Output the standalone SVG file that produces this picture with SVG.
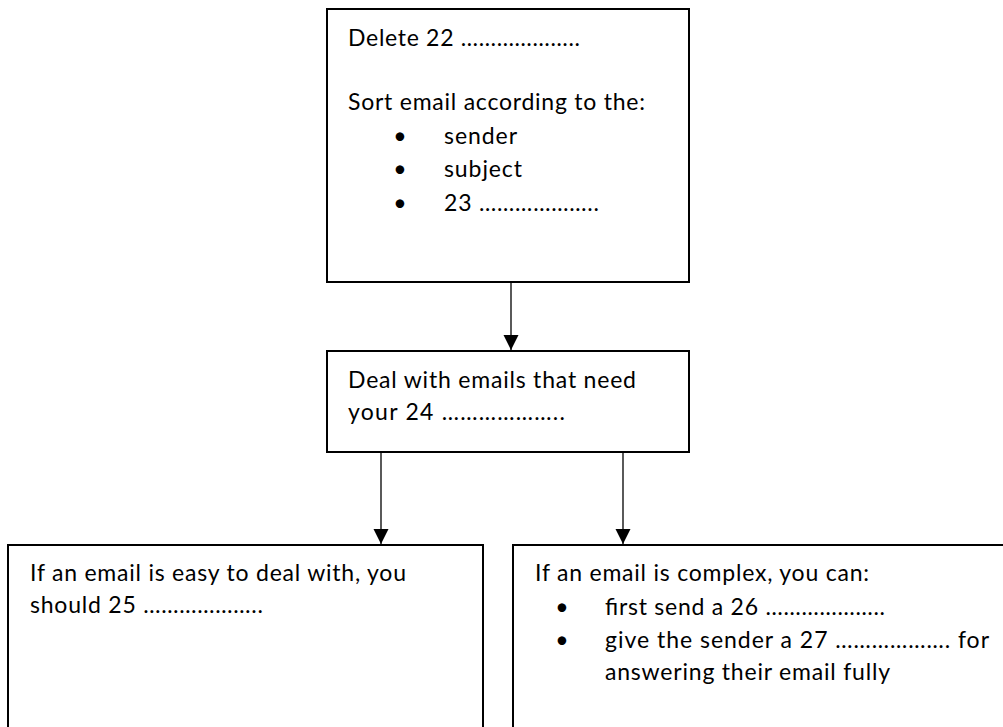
<svg xmlns="http://www.w3.org/2000/svg" width="1003" height="727" viewBox="0 0 1003 727">
<style>
.box{fill:#fff;stroke:#000;stroke-width:2}
.t{font-family:Lato,"Liberation Sans",sans-serif;font-size:23px;fill:#000}
.b{font-family:Lato,"Liberation Sans",sans-serif;font-size:23px;fill:#000;text-anchor:middle}
.c{stroke:#000;stroke-width:1.3;fill:none}
</style>
<defs>
<marker id="ah" markerUnits="userSpaceOnUse" markerWidth="16" markerHeight="16" viewBox="0 0 16 16" refX="15" refY="8" orient="auto">
<path d="M0,0.5 L15,8 L0,15.5 Z" fill="#000"/>
</marker>
</defs>
<rect width="1003" height="727" fill="#fff"/>
<g id="connectors">
<line class="c" x1="511" y1="283" x2="511" y2="350" marker-end="url(#ah)"/>
<line class="c" x1="381" y1="453" x2="381" y2="544" marker-end="url(#ah)"/>
<line class="c" x1="623" y1="453" x2="623" y2="544" marker-end="url(#ah)"/>
</g>
<g id="node-top">
<rect class="box" x="327" y="9" width="362" height="273"/>
<text class="t" x="348" y="46" textLength="232" lengthAdjust="spacing">Delete 22 ………………..</text>
<text class="t" x="348" y="110" textLength="297" lengthAdjust="spacing">Sort email according to the:</text>
<text class="b" x="400" y="144">•</text>
<text class="t" x="444" y="144" textLength="73" lengthAdjust="spacing">sender</text>
<text class="b" x="400" y="177">•</text>
<text class="t" x="444" y="177" textLength="78" lengthAdjust="spacing">subject</text>
<text class="b" x="400" y="211">•</text>
<text class="t" x="444" y="211" textLength="155" lengthAdjust="spacing">23 ………………..</text>
</g>
<g id="node-middle">
<rect class="box" x="327" y="351" width="362" height="101"/>
<text class="t" x="348" y="388" textLength="288" lengthAdjust="spacing">Deal with emails that need</text>
<text class="t" x="348" y="420" textLength="217" lengthAdjust="spacing">your 24  ………………..</text>
</g>
<g id="node-easy">
<rect class="box" x="8" y="545" width="475" height="200"/>
<text class="t" x="30" y="581" textLength="376" lengthAdjust="spacing">If an email is easy to deal with, you</text>
<text class="t" x="30" y="613" textLength="233" lengthAdjust="spacing">should 25 ………………..</text>
</g>
<g id="node-complex">
<rect class="box" x="513" y="545" width="500" height="200"/>
<text class="t" x="535" y="581" textLength="334" lengthAdjust="spacing">If an email is complex, you can:</text>
<text class="b" x="562" y="615">•</text>
<text class="t" x="605" y="615" textLength="280" lengthAdjust="spacing">first send a 26 ………………..</text>
<text class="b" x="562" y="648">•</text>
<text class="t" x="605" y="648" textLength="384" lengthAdjust="spacing">give the sender a 27 ………………. for</text>
<text class="t" x="605" y="680" textLength="285" lengthAdjust="spacing">answering their email fully</text>
</g>
</svg>
